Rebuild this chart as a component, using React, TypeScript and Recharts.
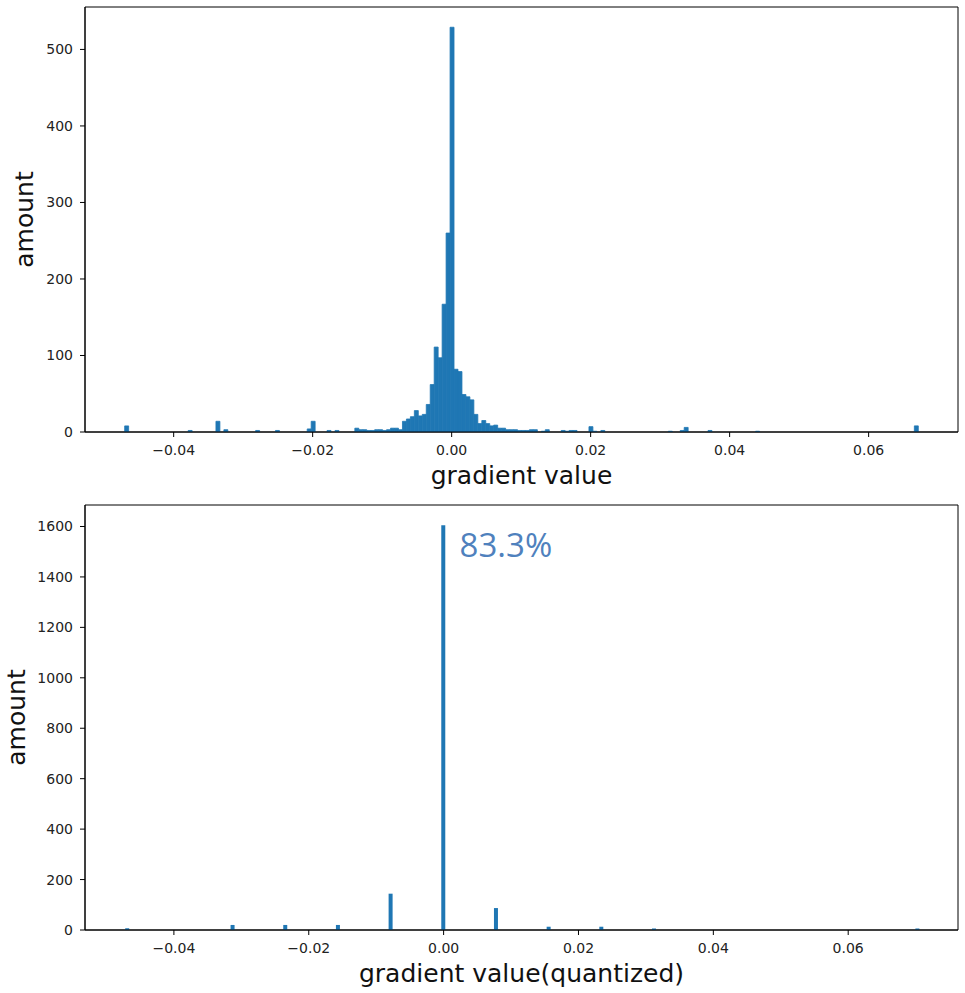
import React from 'react';
import { BarChart, Bar, XAxis, YAxis, ReferenceArea, ReferenceDot } from 'recharts';

// raw gradients: 200 equal-width bins starting at rawBinStart
const rawBinStart = -0.04705;
const rawBinWidth = 0.000571;
const rawCounts = [
  8, 0, 0, 0, 0, 0, 0, 0, 0, 0, 0, 0, 0, 0, 0, 0, 2, 0, 0, 0,
  0, 0, 0, 14, 0, 3, 0, 0, 0, 0, 0, 0, 0, 2, 0, 0, 0, 0, 2, 0,
  0, 0, 0, 0, 0, 0, 4, 14, 0, 0, 0, 2, 0, 2, 0, 0, 0, 0, 5, 3,
  3, 2, 2, 3, 3, 2, 3, 5, 5, 3, 14, 17, 20, 28, 21, 23, 36, 62, 111, 97,
  167, 260, 529, 82, 79, 49, 46, 42, 23, 11, 15, 11, 8, 9, 5, 5, 3, 3, 3, 2,
  2, 2, 3, 3, 0, 1, 3, 0, 0, 0, 2, 1, 2, 2, 0, 0, 0, 7, 1, 0,
  2, 0, 0, 0, 0, 0, 0, 0, 0, 0, 0, 0, 0, 0, 0, 0, 0, 1, 0, 0,
  2, 6, 0, 0, 0, 0, 0, 2, 0, 0, 0, 0, 0, 0, 0, 0, 0, 0, 0, 1,
  0, 0, 0, 0, 0, 0, 0, 0, 0, 0, 0, 0, 0, 0, 0, 0, 0, 0, 0, 0,
  0, 0, 0, 0, 0, 0, 0, 0, 0, 0, 0, 0, 0, 0, 0, 0, 0, 0, 0, 8,
];

// quantized gradients (steps of 1/128), histogram range taken a bit wider than the values
const quantValues = [-0.046875, -0.03125, -0.0234375, -0.015625, -0.0078125, 0, 0.0078125, 0.015625, 0.0234375, 0.03125, 0.0703125];
const quantCounts = [7, 20, 20, 20, 144, 1605, 87, 13, 13, 6, 6];
const quantRange: [number, number] = [-0.0473, 0.0704];
const zeroShare = '83.3%';

const xTicks = [-0.04, -0.02, 0, 0.02, 0.04, 0.06];
const rawYTicks = [0, 100, 200, 300, 400, 500];
const quantYTicks = [0, 200, 400, 600, 800, 1000, 1200, 1400, 1600];

const BLUE = '#1f77b4';
const FONT = 'DejaVu Sans';
const PLOT_W = 873;

const rawData = rawCounts.map((c, i) => ({ x: rawBinStart + (i + 0.5) * rawBinWidth, count: c }));
const quantData = quantValues.map((v, i) => ({ x: v, count: quantCounts[i] }));

// matplotlib-style 5% margins
const pad = (lo: number, hi: number): [number, number] => [lo - (hi - lo) * 0.05, hi + (hi - lo) * 0.05];
const rawDomain = pad(rawBinStart, rawBinStart + rawCounts.length * rawBinWidth);
const quantDomain = pad(quantRange[0], quantRange[1]);
const rawYMax = Math.max(...rawCounts) * 1.05;
const quantYMax = Math.max(...quantCounts) * 1.05;
const rawBarPx = (PLOT_W * rawBinWidth) / (rawDomain[1] - rawDomain[0]) - 0.02;

const fmtX = (v: number) => (v < 0 ? '\u2212' + Math.abs(v).toFixed(2) : v.toFixed(2));
const tickStyle = { fill: '#222', fontSize: 14, fontFamily: FONT };

function XTitle(props: any) {
  const { viewBox, title } = props;
  return (
    <text x={viewBox.x + viewBox.width / 2} y={viewBox.y + 51.5} textAnchor="middle" fontSize={25} fontFamily={FONT} fill="#111">
      {title}
    </text>
  );
}

function YTitle(props: any) {
  const { viewBox, shift } = props;
  const x = viewBox.x + shift;
  const y = viewBox.y + viewBox.height / 2;
  return (
    <text x={x} y={y} transform={`rotate(-90 ${x} ${y})`} textAnchor="middle" fontSize={25} fontFamily={FONT} fill="#111">
      amount
    </text>
  );
}

function ShareLabel(props: any) {
  const { viewBox } = props;
  return (
    <text x={viewBox.x + 16} y={viewBox.y + 31.8} fontSize={33} fontFamily="Open Sans" fill="#4F81BD">
      {zeroShare}
    </text>
  );
}

export default function App() {
  return (
    <div style={{ position: 'absolute', left: 0, top: 0, width: 965, height: 993, background: '#fff' }}>
      <BarChart width={965} height={493} data={rawData} margin={{ top: 7, right: 7, bottom: 0, left: 0 }} barCategoryGap={0} barGap={0}>
        <XAxis
          dataKey="x"
          type="number"
          domain={rawDomain}
          allowDataOverflow
          ticks={xTicks}
          tickFormatter={fmtX}
          height={61}
          stroke="#000"
          tickSize={5}
          tickMargin={8}
          tick={tickStyle}
          label={<XTitle title="gradient value" />}
        />
        <YAxis
          type="number"
          domain={[0, rawYMax]}
          allowDataOverflow
          ticks={rawYTicks}
          width={85}
          stroke="#000"
          tickSize={5}
          tickMargin={7}
          tick={tickStyle}
          label={<YTitle shift={33} />}
        />
        <Bar dataKey="count" fill={BLUE} stroke={BLUE} strokeWidth={0.8} barSize={rawBarPx} isAnimationActive={false} />
        <ReferenceArea x1={rawDomain[0]} x2={rawDomain[1]} y1={0} y2={rawYMax} fill="none" stroke="#000" strokeWidth={1} ifOverflow="visible" />
      </BarChart>
      <BarChart width={965} height={500} data={quantData} margin={{ top: 12, right: 7, bottom: 0, left: 0 }} barGap={0}>
        <XAxis
          dataKey="x"
          type="number"
          domain={quantDomain}
          allowDataOverflow
          ticks={xTicks}
          tickFormatter={fmtX}
          height={63}
          stroke="#000"
          tickSize={5}
          tickMargin={8}
          tick={tickStyle}
          label={<XTitle title="gradient value(quantized)" />}
        />
        <YAxis
          type="number"
          domain={[0, quantYMax]}
          allowDataOverflow
          ticks={quantYTicks}
          width={85}
          stroke="#000"
          tickSize={5}
          tickMargin={7}
          tick={tickStyle}
          label={<YTitle shift={25} />}
        />
        <Bar dataKey="count" fill={BLUE} barSize={4} isAnimationActive={false} />
        <ReferenceArea x1={quantDomain[0]} x2={quantDomain[1]} y1={0} y2={quantYMax} fill="none" stroke="#000" strokeWidth={1} ifOverflow="visible" />
        <ReferenceDot x={0} y={quantCounts[quantValues.indexOf(0)]} r={0} fill="none" stroke="none" label={<ShareLabel />} />
      </BarChart>
    </div>
  );
}
